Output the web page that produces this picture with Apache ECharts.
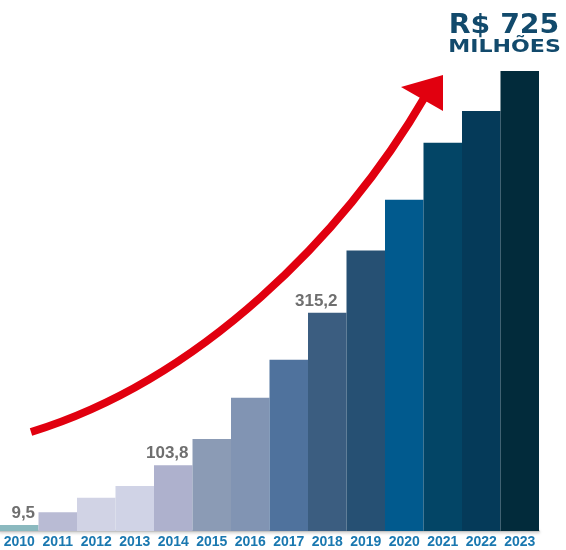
<!DOCTYPE html>
<html>
<head>
<meta charset="utf-8">
<script src="https://cdn.jsdelivr.net/npm/echarts@6/dist/echarts.min.js"></script>
<style>
  html, body { margin: 0; padding: 0; background: #fff; }
  #chart { width: 566px; height: 550px; }
</style>
</head>
<body>
<div id="chart"></div>
<script>
// anos e valores (R$ milhões)
var years = ['2010', '2011', '2012', '2013', '2014', '2015', '2016',
             '2017', '2018', '2019', '2020', '2021', '2022', '2023'];
var values = [9.5, 29.5, 52.5, 71, 103.8, 145, 210, 270, 344, 442, 522, 612, 662, 725];
// rótulos mostrados sobre algumas barras
var barLabels = { 0: '9,5', 4: '103,8', 8: '315,2' };
var totalText = 'R$ 725';
var unitText = 'MILHÕES';

var palette = ['#8bb9bf', '#b9bbd4', '#d1d3e5', '#d0d3e6', '#aeb1cd', '#8b9bb5', '#8194b3',
               '#4f729d', '#3b5d80', '#265073', '#015a8e', '#034566', '#053a59', '#022b3b'];
var labelShift = { 0: 4, 4: -6, 8: -11 };

var chart = echarts.init(document.getElementById('chart'));

var seriesData = values.map(function (v, i) {
  var item = { value: v, itemStyle: { color: palette[i] } };
  if (barLabels[i]) {
    item.label = {
      show: true,
      position: 'top',
      distance: 3,
      offset: [labelShift[i] || 0, 0],
      formatter: barLabels[i],
      color: '#6f6f6f',
      fontFamily: 'Liberation Sans, Arial, sans-serif',
      fontWeight: 'bold',
      fontSize: 17
    };
  }
  return item;
});

chart.setOption({
  animation: false,
  grid: { left: -4, right: 27, top: 71, bottom: 19 },
  xAxis: {
    type: 'category',
    data: years,
    axisTick: { show: false },
    axisLine: {
      lineStyle: {
        color: '#c4c4c4', width: 2,
        shadowColor: 'rgba(0,0,0,0.25)', shadowBlur: 3, shadowOffsetY: 1
      }
    },
    axisLabel: {
      interval: 0,
      margin: 4,
      color: '#1a78b0',
      fontFamily: 'Liberation Sans Narrow, Arial Narrow, Liberation Sans, sans-serif',
      fontWeight: 'bold',
      fontSize: 14
    }
  },
  yAxis: {
    type: 'value',
    min: 0,
    max: 725,
    show: false,
    splitLine: { show: false }
  },
  series: [{
    type: 'bar',
    data: seriesData,
    barWidth: '100%',
    barCategoryGap: 0
  }],
  graphic: [
    {
      type: 'bezierCurve',
      z: 10,
      shape: { x1: 31, y1: 432, cpx1: 200, cpy1: 380, cpx2: 344, cpy2: 236, x2: 426, y2: 95 },
      style: { stroke: '#e1000f', lineWidth: 8, fill: null, lineCap: 'butt' }
    },
    {
      type: 'polygon',
      z: 10,
      shape: { points: [[443, 75], [401, 87], [443, 111]] },
      style: { fill: '#e1000f' }
    },
    {
      type: 'text',
      x: 504, y: 13,
      scaleX: 1.09,
      style: {
        text: totalText,
        fill: '#124a6c',
        font: 'bold 26px "DejaVu Sans", sans-serif',
        textAlign: 'center',
        textVerticalAlign: 'top'
      }
    },
    {
      type: 'text',
      x: 504.5, y: 39,
      scaleX: 1.3,
      style: {
        text: unitText,
        fill: '#124a6c',
        font: 'bold 17px "DejaVu Sans", sans-serif',
        textAlign: 'center',
        textVerticalAlign: 'top'
      }
    }
  ]
});
</script>
</body>
</html>
